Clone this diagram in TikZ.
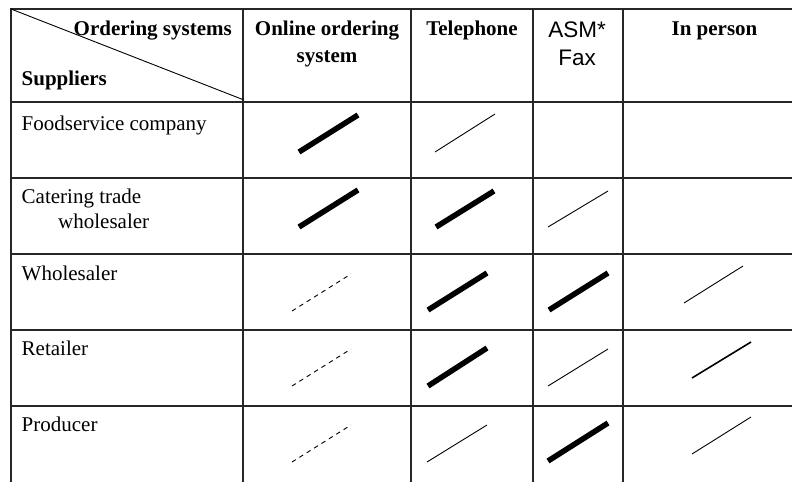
\documentclass[tikz,border=0pt]{standalone}
\usepackage{fontspec}
\setmainfont{Liberation Serif}
\setsansfont{Liberation Sans}
\begin{document}
\begin{tikzpicture}[x=1pt,y=-1pt,
  grid/.style={line width=1.1pt,draw=black!85},
  hdr/.style={font=\fontsize{21}{25}\selectfont\bfseries,inner sep=0pt},
  hdrsans/.style={font=\fontsize{22.5}{27}\selectfont\sffamily,inner sep=0pt},
  rowlab/.style={font=\fontsize{21}{25}\selectfont,inner sep=0pt,anchor=base west},
  strong/.style={line width=5.5pt,line cap=butt},
  weak/.style={line width=0.9pt},
  medium/.style={line width=1.6pt},
  possible/.style={line width=0.9pt,dash pattern=on 4.5pt off 4.2pt}]
\useasboundingbox (0,0) rectangle (792,482);
\fill[white] (0,0) rectangle (792,482);

% table rules (the table runs on past the right and bottom edges)
\draw[grid] (792,9) -- (11,9) -- (11,482);
\foreach \y in {102,178,254,330,406} \draw[grid] (11,\y) -- (792,\y);
\foreach \x in {243,411,533,623} \draw[grid] (\x,9) -- (\x,482);
\draw[line width=0.9pt] (11,9) -- (244,100);

% header
\node[hdr,anchor=base east] (ordsys) at (232,35) {Ordering systems};
\node[hdr,anchor=base west] (supp) at (21.5,85) {Suppliers};
\node[hdr,anchor=base] (online1) at (327,35) {Online ordering};
\node[hdr,anchor=base] (online2) at (327,62) {system};
\node[hdr,anchor=base] (tel) at (472,35) {Telephone};
\node[hdrsans,anchor=base] (asm) at (577,37) {ASM*};
\node[hdrsans,anchor=base] (fax) at (577,65) {Fax};
\node[hdr,anchor=base] (inperson) at (714.5,35) {In person};

% supplier rows
\node[rowlab] (food) at (21.5,130) {Foodservice company};
\node[rowlab] (cat1) at (21.5,203) {Catering trade};
\node[rowlab] (cat2) at (58,228) {wholesaler};
\node[rowlab] (whole) at (21.5,280) {Wholesaler};
\node[rowlab] (retail) at (21.5,355) {Retailer};
\node[rowlab] (prod) at (21.5,431) {Producer};

% row 1: foodservice company
\draw[strong] (299,152) -- (358,115);
\draw[weak] (435,152) -- (495,114);
% row 2: catering trade wholesaler
\draw[strong] (299,227) -- (358,190);
\draw[strong] (436,227) -- (494,191);
\draw[weak] (548,227) -- (608,191);
% row 3: wholesaler
\draw[possible] (292,311) -- (351,274);
\draw[strong] (428,310) -- (487,273);
\draw[strong] (549,310) -- (608,273);
\draw[weak] (684,303) -- (743,266);
% row 4: retailer
\draw[possible] (292,386) -- (351,349);
\draw[strong] (428,386) -- (487,348);
\draw[weak] (548,386) -- (608,349);
\draw[medium] (692,378) -- (751,342);
% row 5: producer
\draw[possible] (292,462) -- (351,425);
\draw[weak] (427,462) -- (487,425);
\draw[strong] (548,461) -- (608,423);
\draw[weak] (692,454) -- (751,417);
\end{tikzpicture}
\end{document}
